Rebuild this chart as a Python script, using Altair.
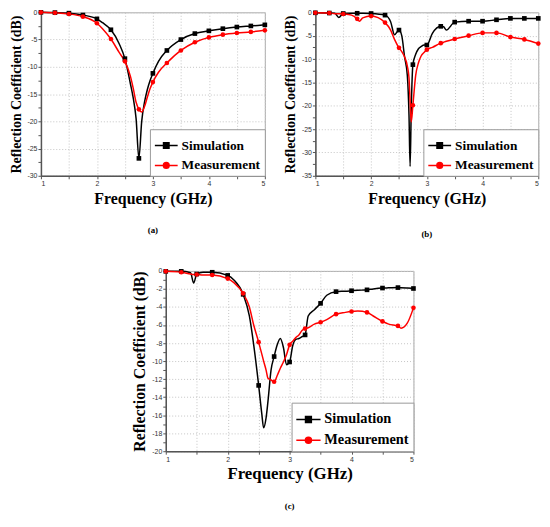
import altair as alt
import pandas as pd

SERIES = ["Simulation", "Measurement"]
COLORS = ["#000000", "#ff0000"]

# ---------------- panel (a) ----------------
freq_a = [1.0, 1.25, 1.5, 1.75, 2.0, 2.1, 2.25, 2.4, 2.5, 2.6, 2.65, 2.7, 2.75, 2.8,
          2.85, 2.9, 2.95, 3.0, 3.1, 3.25, 3.5, 3.75, 4.0, 4.25, 4.5, 4.75, 5.0]
sim_a = [0.0, -0.05, -0.15, -0.5, -1.2, -1.9, -3.2, -5.8, -8.5, -13.2, -15.8, -19.5, -26.8, -20.0,
         -16.5, -14.2, -12.5, -11.2, -9.0, -7.0, -5.0, -3.9, -3.4, -3.0, -2.7, -2.5, -2.3]
meas_a = [0.0, -0.1, -0.3, -0.8, -2.0, -3.0, -4.9, -7.4, -9.0, -11.8, -14.0, -16.5, -17.8, -18.3,
          -17.3, -15.6, -14.0, -12.8, -11.0, -9.3, -7.0, -5.5, -4.6, -4.1, -3.8, -3.6, -3.3]

# ---------------- panel (b) ----------------
freq_b = [1.0, 1.25, 1.35, 1.42, 1.5, 1.65, 1.75, 1.79, 1.85, 2.0, 2.25, 2.35, 2.42, 2.5, 2.55,
          2.6, 2.65, 2.68, 2.7, 2.72, 2.75, 2.8, 2.85, 2.9, 2.95, 3.0, 3.1, 3.25, 3.3, 3.35,
          3.5, 3.75, 4.0, 4.25, 4.5, 4.75, 5.0]
sim_b = [-0.1, -0.15, -0.2, -1.1, -0.25, -0.2, -0.2, -0.2, -0.2, -0.25, -0.6, -2.0, -4.8, -3.8, -5.0,
         -9.5, -13.5, -22.0, -33.0, -21.0, -11.2, -9.0, -7.8, -7.3, -7.0, -7.0, -4.5, -3.0, -3.1, -3.8,
         -2.1, -1.9, -1.9, -1.6, -1.3, -1.3, -1.3]
meas_b = [-0.1, -0.15, -0.3, -0.3, -0.35, -0.6, -1.4, -1.9, -1.2, -0.8, -2.2, -3.8, -5.8, -7.6, -8.4,
          -9.5, -11.5, -14.0, -19.0, -23.5, -19.9, -13.5, -10.8, -9.3, -8.6, -8.0, -7.5, -6.6, -6.4, -6.2,
          -5.7, -5.0, -4.4, -4.4, -5.3, -5.8, -6.7]

# ---------------- panel (c) ----------------
freq_c = [1.0, 1.25, 1.4, 1.45, 1.5, 1.6, 1.75, 2.0, 2.1, 2.25, 2.35, 2.42, 2.5, 2.55, 2.58,
          2.62, 2.65, 2.7, 2.75, 2.8, 2.85, 2.9, 2.95, 3.0, 3.05, 3.1, 3.15, 3.2, 3.25, 3.3,
          3.4, 3.5, 3.6, 3.75, 3.9, 4.0, 4.1, 4.25, 4.35, 4.5, 4.6, 4.75, 4.8, 4.9, 5.0]
sim_c = [-0.05, -0.05, -0.2, -1.35, -0.35, -0.15, -0.15, -0.5, -1.0, -2.6, -5.0, -8.2, -12.7, -15.8, -17.4,
         -16.3, -14.5, -11.0, -9.5, -8.2, -7.5, -8.5, -10.4, -10.1, -8.3, -7.6, -7.5, -7.3, -7.1, -5.0,
         -4.3, -3.6, -2.7, -2.3, -2.25, -2.2, -2.15, -2.1, -2.0, -1.9, -1.88, -1.85, -1.86, -1.9, -1.95]
meas_c = [-0.05, -0.15, -0.35, -0.4, -0.4, -0.45, -0.45, -0.85, -1.3, -2.5, -4.0, -6.0, -7.9, -9.2, -10.0,
          -11.0, -11.9, -12.1, -12.3, -11.6, -10.8, -10.1, -9.3, -8.2, -7.8, -7.4, -7.1, -6.6, -6.4, -6.3,
          -5.9, -5.7, -5.4, -4.8, -4.6, -4.5, -4.45, -4.6, -5.0, -5.6, -5.9, -6.1, -6.35, -5.8, -4.1]

SIM_PATH = "M-1,0H1M-0.24,-0.24H0.24V0.24H-0.24Z"
MEAS_PATH = "M-1,0H1M0.25,0A0.25,0.25,0,1,1,-0.25,0A0.25,0.25,0,1,1,0.25,0Z"

SERIF = "Liberation Serif"
SANS = "Liberation Sans"


def make_df(freq, sim, meas):
    rows = []
    for f, s, m in zip(freq, sim, meas):
        rows.append({"f": f, "v": s, "series": "Simulation"})
        rows.append({"f": f, "v": m, "series": "Measurement"})
    return pd.DataFrame(rows)


def panel(freq, sim, meas, ymin, ystep, w, h, caption, ytsize, xtsize, lgsize, symsize, capoff):
    df = make_df(freq, sim, meas)
    nhalf = int(round(-ymin / ystep * 2))
    yvals = [-(i * ystep / 2) for i in range(nhalf + 1)]
    xvals = [1 + 0.5 * i for i in range(9)]
    common = dict(
        titleFont=SERIF, titleFontWeight="bold", titleColor="black",
        labelFont=SANS, labelFontSize=7, labelColor="#333333",
        domainColor="#555555", domainWidth=1.5, tickColor="#555555",
        gridColor="#c4c4c4", gridDash=[1, 2], tickSize=3, labelPadding=1, titlePadding=4,
    )
    x = alt.X(
        "f:Q",
        scale=alt.Scale(domain=[1, 5], nice=False, zero=False),
        axis=alt.Axis(
            values=xvals,
            labelExpr="datum.value % 1 == 0 ? '' + datum.value : ''",
            title="Frequency (GHz)",
            titleFontSize=xtsize,
            **common,
        ),
    )
    y = alt.Y(
        "v:Q",
        scale=alt.Scale(domain=[ymin, 0], nice=False, zero=False),
        axis=alt.Axis(
            values=yvals,
            labelExpr=f"datum.value % {ystep} == 0 ? '' + datum.value : ''",
            gridOpacity={"condition": {"test": f"datum.value % {ystep} == 0", "value": 1}, "value": 0},
            title="Reflection Coefficient (dB)",
            titleFontSize=ytsize,
            **common,
        ),
    )

    def legend():
        return alt.Legend(
            title=None,
            orient="bottom-right",
            offset=0,
            strokeColor="#999999",
            fillColor="white",
            padding=4,
            labelFont=SERIF,
            labelFontWeight="bold",
            labelFontSize=lgsize,
            labelColor="black",
            labelOffset=3,
            symbolSize=symsize,
            symbolStrokeWidth=1.5,
            symbolOpacity=1,
            rowPadding=1,
        )

    base = alt.Chart(df)
    layers = []
    for name, col in zip(SERIES, COLORS):
        layers.append(
            base.transform_filter(f"datum.series == '{name}'")
            .mark_line(interpolate="monotone", strokeWidth=1.5, color=col)
            .encode(x=x, y=y)
        )
    marker_test = "round(datum.f * 100) % 25 == 0"
    for name, col, shp in zip(SERIES, COLORS, ["square", "circle"]):
        layers.append(
            base.transform_filter(f"datum.series == '{name}' && {marker_test}")
            .mark_point(shape=shp, filled=True, size=22, color=col, opacity=1)
            .encode(x=x, y=y)
        )
    # legend-only layer (no data rows drawn)
    layers.append(
        base.transform_filter("false")
        .mark_point(strokeWidth=1.5, opacity=1)
        .encode(
            x=x,
            y=y,
            fill=alt.Fill("series:N", scale=alt.Scale(domain=SERIES, range=COLORS), legend=legend()),
            stroke=alt.Stroke("series:N", scale=alt.Scale(domain=SERIES, range=COLORS), legend=legend()),
            shape=alt.Shape("series:N", scale=alt.Scale(domain=SERIES, range=[SIM_PATH, MEAS_PATH]), legend=legend()),
        )
    )
    return alt.layer(*layers).properties(
        width=w,
        height=h,
        title=alt.TitleParams(
            caption, orient="bottom", font=SERIF, fontWeight="bold", fontSize=9,
            offset=capoff, anchor="middle", color="black",
        ),
    )


pa = panel(freq_a, sim_a, meas_a, -30, 5, 226, 165, "(a)", 14, 16, 13.5, 529, 20)
pb = panel(freq_b, sim_b, meas_b, -35, 5, 225, 165, "(b)", 14, 16, 13.5, 529, 24)
pc = panel(freq_c, sim_c, meas_c, -20, 2, 250, 182, "(c)", 16, 17, 14.5, 600, 20)

indep = dict(fill="independent", stroke="independent", shape="independent")
row1 = alt.hconcat(pa, pb, spacing=14).resolve_scale(**indep).resolve_legend(**indep)
chart = alt.vconcat(row1, pc, spacing=26, center=True).resolve_scale(**indep).resolve_legend(
    **indep
).configure_view(
    stroke="#aaaaaa", strokeWidth=1
).properties(
    background="white",
    padding={"left": 0, "top": -3, "right": 0, "bottom": 0},
)

chart.save("out.html", embed_options={"renderer": "svg", "actions": False})
